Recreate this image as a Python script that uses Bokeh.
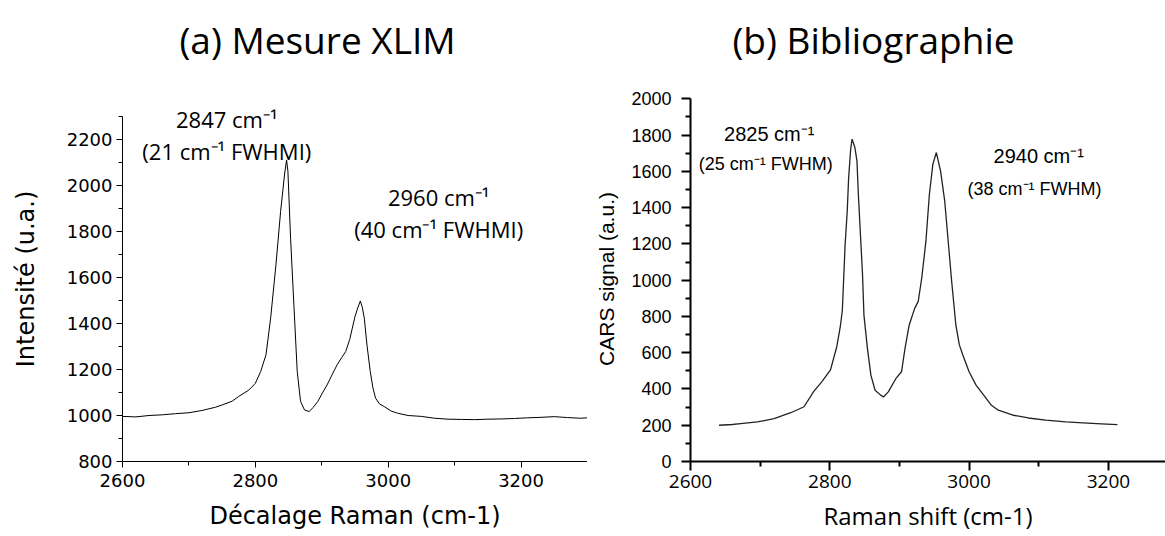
from bokeh.plotting import figure
from bokeh.layouts import row, column
from bokeh.models import Label, Range1d, FixedTicker
from bokeh.embed import file_html
from bokeh.resources import INLINE

# ---------------- (a) Mesure XLIM ----------------
a_title = "(a) Mesure XLIM"
a_shift = [2600, 2620, 2640, 2660, 2680, 2700, 2720, 2740, 2750, 2765, 2775, 2790, 2800,
           2808, 2816, 2823, 2831, 2838, 2844, 2847, 2849, 2853, 2858, 2863, 2868, 2874,
           2881, 2887, 2894, 2901, 2908, 2916, 2923, 2930, 2936, 2942, 2946, 2950, 2954,
           2958, 2961, 2964, 2968, 2973, 2977, 2981, 2987, 2994, 3004, 3014, 3030, 3050,
           3070, 3090, 3110, 3130, 3150, 3170, 3190, 3210, 3230, 3250, 3270, 3290, 3300]
a_int = [996, 994, 1000, 1003, 1008, 1012, 1022, 1036, 1046, 1062, 1083, 1110, 1140,
         1191, 1264, 1423, 1655, 1887, 2050, 2111, 2062, 1771, 1481, 1192, 1062, 1024,
         1017, 1035, 1061, 1098, 1133, 1180, 1220, 1252, 1278, 1330, 1380, 1430, 1467,
         1498, 1470, 1423, 1307, 1191, 1120, 1075, 1050, 1039, 1020, 1010, 1000, 996,
         988, 984, 983, 982, 984, 985, 987, 990, 992, 995, 991, 988, 990]

a_x_ticks = [2600, 2800, 3000, 3200]
a_x_minor = [2700, 2900, 3100, 3300]
a_y_ticks = [800, 1000, 1200, 1400, 1600, 1800, 2000, 2200]
a_y_minor = [900, 1100, 1300, 1500, 1700, 1900, 2100, 2300]

# ---------------- (b) Bibliographie ----------------
b_title = "(b) Bibliographie"
b_shift = [2641, 2660, 2672, 2696, 2720, 2744, 2763, 2777, 2789, 2801, 2810, 2815, 2818,
           2820, 2822, 2825, 2827, 2830, 2832, 2836, 2839, 2841, 2844, 2847, 2849, 2854,
           2859, 2865, 2873, 2877, 2884, 2895, 2903, 2908, 2914, 2922, 2927, 2932, 2938,
           2943, 2948, 2953, 2959, 2965, 2970, 2975, 2981, 2986, 2991, 3000, 3010, 3021,
           3032, 3042, 3064, 3085, 3110, 3139, 3170, 3190, 3213]
b_cars = [200, 204, 209, 218, 236, 269, 302, 387, 442, 505, 633, 742, 833,
          1015, 1196, 1378, 1560, 1724, 1778, 1732, 1658, 1474, 1252, 1030, 809, 624,
          476, 393, 366, 356, 384, 458, 495, 624, 753, 846, 883, 1012, 1215,
          1474, 1640, 1704, 1603, 1437, 1215, 993, 753, 643, 587, 495, 421, 366,
          310, 283, 255, 240, 228, 218, 212, 208, 203]

b_x_ticks = [2600, 2800, 3000, 3200]
b_x_minor = [2700, 2900, 3100]
b_y_ticks = [0, 200, 400, 600, 800, 1000, 1200, 1400, 1600, 1800, 2000]
b_y_minor = [100, 300, 500, 700, 900, 1100, 1300, 1500, 1700, 1900]

ARIAL_A = "DejaVu Sans"
ARIAL_B = "Liberation Sans"
CALIBRI = "Open Sans"

HEAD_H = 90
PLOT_H = 446
TOP = 6
BOTTOM = 75


def add_label(p, x, y, text, font, size):
    p.add_layout(Label(x=x, y=y, text=text, text_align="center", text_baseline="middle",
                       text_font=font, text_font_size=size, text_color="black"))


# ---------------- header with the two panel titles ----------------
head = figure(width=1165, height=HEAD_H, output_backend="svg", toolbar_location=None,
              x_range=Range1d(0, 1165), y_range=Range1d(0, HEAD_H),
              x_axis_location=None, y_axis_location=None, min_border=0)
head.title = None
head.outline_line_color = None
head.xgrid.visible = False
head.ygrid.visible = False
add_label(head, 317, 51, a_title, CALIBRI, "37px")
add_label(head, 873, 51, b_title, CALIBRI, "37px")

# ---------------- figure (a) ----------------
p1 = figure(width=587, height=PLOT_H, output_backend="svg", toolbar_location=None,
            x_range=Range1d(2600, 3300), y_range=Range1d(800, 2387),
            min_border_left=122, min_border_right=0, min_border_top=TOP,
            min_border_bottom=BOTTOM)
p1.title = None
p1.outline_line_color = None
p1.xgrid.visible = False
p1.ygrid.visible = False
p1.line(a_shift, a_int, line_color="black", line_width=1)

p1.xaxis.ticker = FixedTicker(ticks=a_x_ticks, minor_ticks=a_x_minor)
p1.yaxis.ticker = FixedTicker(ticks=a_y_ticks, minor_ticks=a_y_minor)
p1.yaxis.bounds = (800, 2300)
for ax in (p1.xaxis[0], p1.yaxis[0]):
    ax.axis_line_color = "black"
    ax.axis_line_width = 1
    ax.major_tick_line_color = "black"
    ax.minor_tick_line_color = "black"
    ax.major_tick_out = 6
    ax.major_tick_in = 0
    ax.minor_tick_out = 4
    ax.minor_tick_in = 0
    ax.major_label_text_font = ARIAL_A
    ax.major_label_text_font_size = "18px"
    ax.major_label_text_color = "black"
    ax.axis_label_text_font = ARIAL_A
    ax.axis_label_text_font_style = "normal"
    ax.axis_label_text_font_size = "24px"
    ax.axis_label_text_color = "black"
p1.xaxis.axis_label = "Décalage Raman (cm-1)"
p1.yaxis.axis_label = "Intensité (u.a.)"
p1.xaxis.major_label_standoff = 6
p1.xaxis.axis_label_standoff = 12
p1.yaxis.major_label_standoff = 4
p1.yaxis.axis_label_standoff = 24

add_label(p1, 2757, 2287, "2847 cm⁻¹", CALIBRI, "22px")
add_label(p1, 2757, 2152, "(21 cm⁻¹ FWHMI)", CALIBRI, "22px")
add_label(p1, 3076, 1948, "2960 cm⁻¹", CALIBRI, "22px")
add_label(p1, 3076, 1809, "(40 cm⁻¹ FWHMI)", CALIBRI, "22px")

# ---------------- figure (b) ----------------
p2 = figure(width=578, height=PLOT_H, output_backend="svg", toolbar_location=None,
            x_range=Range1d(2600, 3282), y_range=Range1d(0, 2013),
            min_border_left=103, min_border_right=0, min_border_top=TOP,
            min_border_bottom=BOTTOM)
p2.title = None
p2.outline_line_color = None
p2.xgrid.visible = False
p2.ygrid.visible = False
p2.line(b_shift, b_cars, line_color="#222222", line_width=1.3)

p2.xaxis.ticker = FixedTicker(ticks=b_x_ticks, minor_ticks=b_x_minor)
p2.yaxis.ticker = FixedTicker(ticks=b_y_ticks, minor_ticks=b_y_minor)
p2.yaxis.bounds = (0, 2000)
for ax in (p2.xaxis[0], p2.yaxis[0]):
    ax.axis_line_color = "black"
    ax.axis_line_width = 2
    ax.major_tick_line_color = "black"
    ax.major_tick_line_width = 2
    ax.minor_tick_line_color = "black"
    ax.minor_tick_line_width = 2
    ax.major_tick_out = 9
    ax.major_tick_in = 0
    ax.minor_tick_out = 5
    ax.minor_tick_in = 0
    ax.major_label_text_color = "black"
    ax.axis_label_text_font_style = "normal"
    ax.axis_label_text_color = "black"
p2.xaxis.major_label_text_font = CALIBRI
p2.xaxis.major_label_text_font_size = "19px"
p2.xaxis.axis_label = "Raman shift (cm-1)"
p2.xaxis.axis_label_text_font = CALIBRI
p2.xaxis.axis_label_text_font_size = "24px"
p2.xaxis.major_label_standoff = 4
p2.xaxis.axis_label_standoff = 8
p2.yaxis.major_label_text_font = ARIAL_B
p2.yaxis.major_label_text_font_size = "18px"
p2.yaxis.axis_label = "CARS signal (a.u.)"
p2.yaxis.axis_label_text_font = ARIAL_B
p2.yaxis.axis_label_text_font_size = "21px"
p2.yaxis.major_label_standoff = 10
p2.yaxis.axis_label_standoff = 10

add_label(p2, 2713, 1808, "2825 cm⁻¹", ARIAL_B, "20px")
add_label(p2, 2708, 1643, "(25 cm⁻¹ FWHM)", ARIAL_B, "18px")
add_label(p2, 3100, 1687, "2940 cm⁻¹", ARIAL_B, "20px")
add_label(p2, 3094, 1505, "(38 cm⁻¹ FWHM)", ARIAL_B, "18px")

layout = column(head, row(p1, p2))
open("out.html", "w").write(file_html(layout, INLINE))
